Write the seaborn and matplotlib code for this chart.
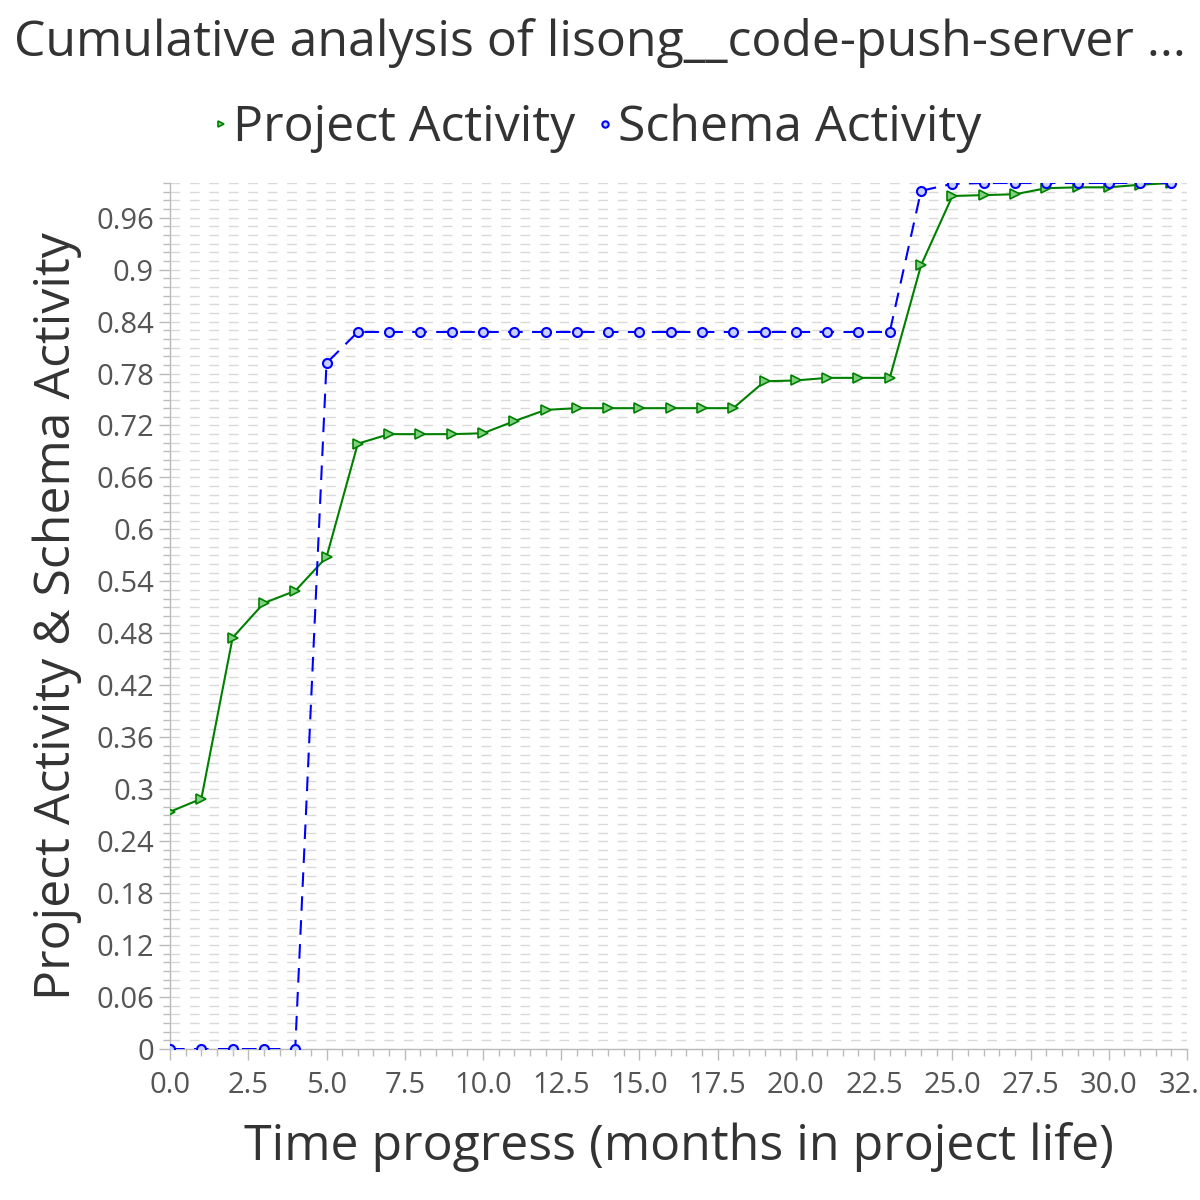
import numpy as np
import pandas as pd
import matplotlib
matplotlib.use("Agg")
import matplotlib.pyplot as plt
from matplotlib.ticker import MultipleLocator, FuncFormatter
import seaborn as sns

months = list(range(33))
project_activity = [0.274, 0.289, 0.475, 0.515, 0.529, 0.568, 0.699, 0.710, 0.710, 0.710,
                    0.711, 0.725, 0.738, 0.740, 0.740, 0.740, 0.740, 0.740, 0.740, 0.771,
                    0.772, 0.775, 0.775, 0.775, 0.905, 0.985, 0.986, 0.987, 0.994, 0.995,
                    0.995, 0.998, 1.0]
schema_activity = [0.0, 0.0, 0.0, 0.0, 0.0, 0.792, 0.828, 0.828, 0.828, 0.828,
                   0.828, 0.828, 0.828, 0.828, 0.828, 0.828, 0.828, 0.828, 0.828, 0.828,
                   0.828, 0.828, 0.828, 0.828, 0.991, 0.999, 1.0, 1.0, 1.0, 1.0,
                   1.0, 1.0, 1.0]

title = "Cumulative analysis of lisong__code-push-server ..."
x_label = "Time progress (months in project life)"
y_label = "Project Activity & Schema Activity"


def main():
    sns.set_style("white")
    plt.rcParams["font.family"] = ["Open Sans", "DejaVu Sans"]

    df = pd.DataFrame({"month": months,
                       "project": project_activity,
                       "schema": schema_activity})

    fig = plt.figure(figsize=(12, 12), dpi=100)
    ax = fig.add_axes([0.1417, 0.1258, 0.8475, 0.7217])

    sns.lineplot(data=df, x="month", y="project", ax=ax, color="green",
                 linewidth=1.5, marker=">", markersize=6.5, markeredgewidth=1.2,
                 markerfacecolor="#7fd07f", markeredgecolor="green",
                 label="Project Activity", zorder=3)
    sns.lineplot(data=df, x="month", y="schema", ax=ax, color="blue",
                 linewidth=1.5, marker="o", markersize=6.5, markeredgewidth=1.5,
                 markerfacecolor="#c8d0ff", markeredgecolor="blue",
                 label="Schema Activity", zorder=4)
    ax.lines[1].set_dashes((7, 4.5))

    ax.set_xlim(0, 32.5)
    ax.set_ylim(0, 1.0)

    ax.xaxis.set_major_locator(MultipleLocator(2.5))
    ax.xaxis.set_minor_locator(MultipleLocator(0.5))
    ax.yaxis.set_major_locator(MultipleLocator(0.06))
    ax.yaxis.set_minor_locator(MultipleLocator(0.01))
    ax.xaxis.set_major_formatter(FuncFormatter(lambda v, p: f"{v:.1f}"))
    ax.yaxis.set_major_formatter(
        FuncFormatter(lambda v, p: f"{v:.2f}".rstrip("0").rstrip(".")))

    ax.grid(False)
    ax.yaxis.grid(True, which="both", color="#d9d9d9", linestyle=(0, (7, 7)),
                  linewidth=1.0)
    ax.set_axisbelow(True)

    for s in ["top", "right"]:
        ax.spines[s].set_visible(False)
    for s in ["left", "bottom"]:
        ax.spines[s].set_color("#bbbbbb")
        ax.spines[s].set_linewidth(1.0)

    ax.tick_params(axis="both", which="major", labelsize=21, labelcolor="#555555",
                   color="#bbbbbb", length=8, width=1, direction="out",
                   bottom=True, left=True)
    ax.tick_params(axis="x", which="major", pad=8)
    ax.tick_params(axis="both", which="minor", color="#bbbbbb", length=5,
                   width=1, direction="out", bottom=True, left=True)

    ax.set_xlabel(x_label, fontsize=36, color="#333333", labelpad=16)
    ax.set_ylabel(y_label, fontsize=36, color="#333333", labelpad=10)

    fig.suptitle(title, fontsize=36, color="#333333", x=0.5, y=0.985)

    leg = ax.legend(loc="lower center", bbox_to_anchor=(0.42, 1.0), ncol=2,
                    frameon=False, fontsize=36, handlelength=0.3,
                    handletextpad=0.1, columnspacing=0.45, markerscale=0.7,
                    labelcolor="#333333", borderaxespad=0.2)
    for h in leg.legend_handles:
        h.set_linestyle("none")

    fig.savefig("out.png", dpi=100)


if __name__ == "__main__":
    main()
